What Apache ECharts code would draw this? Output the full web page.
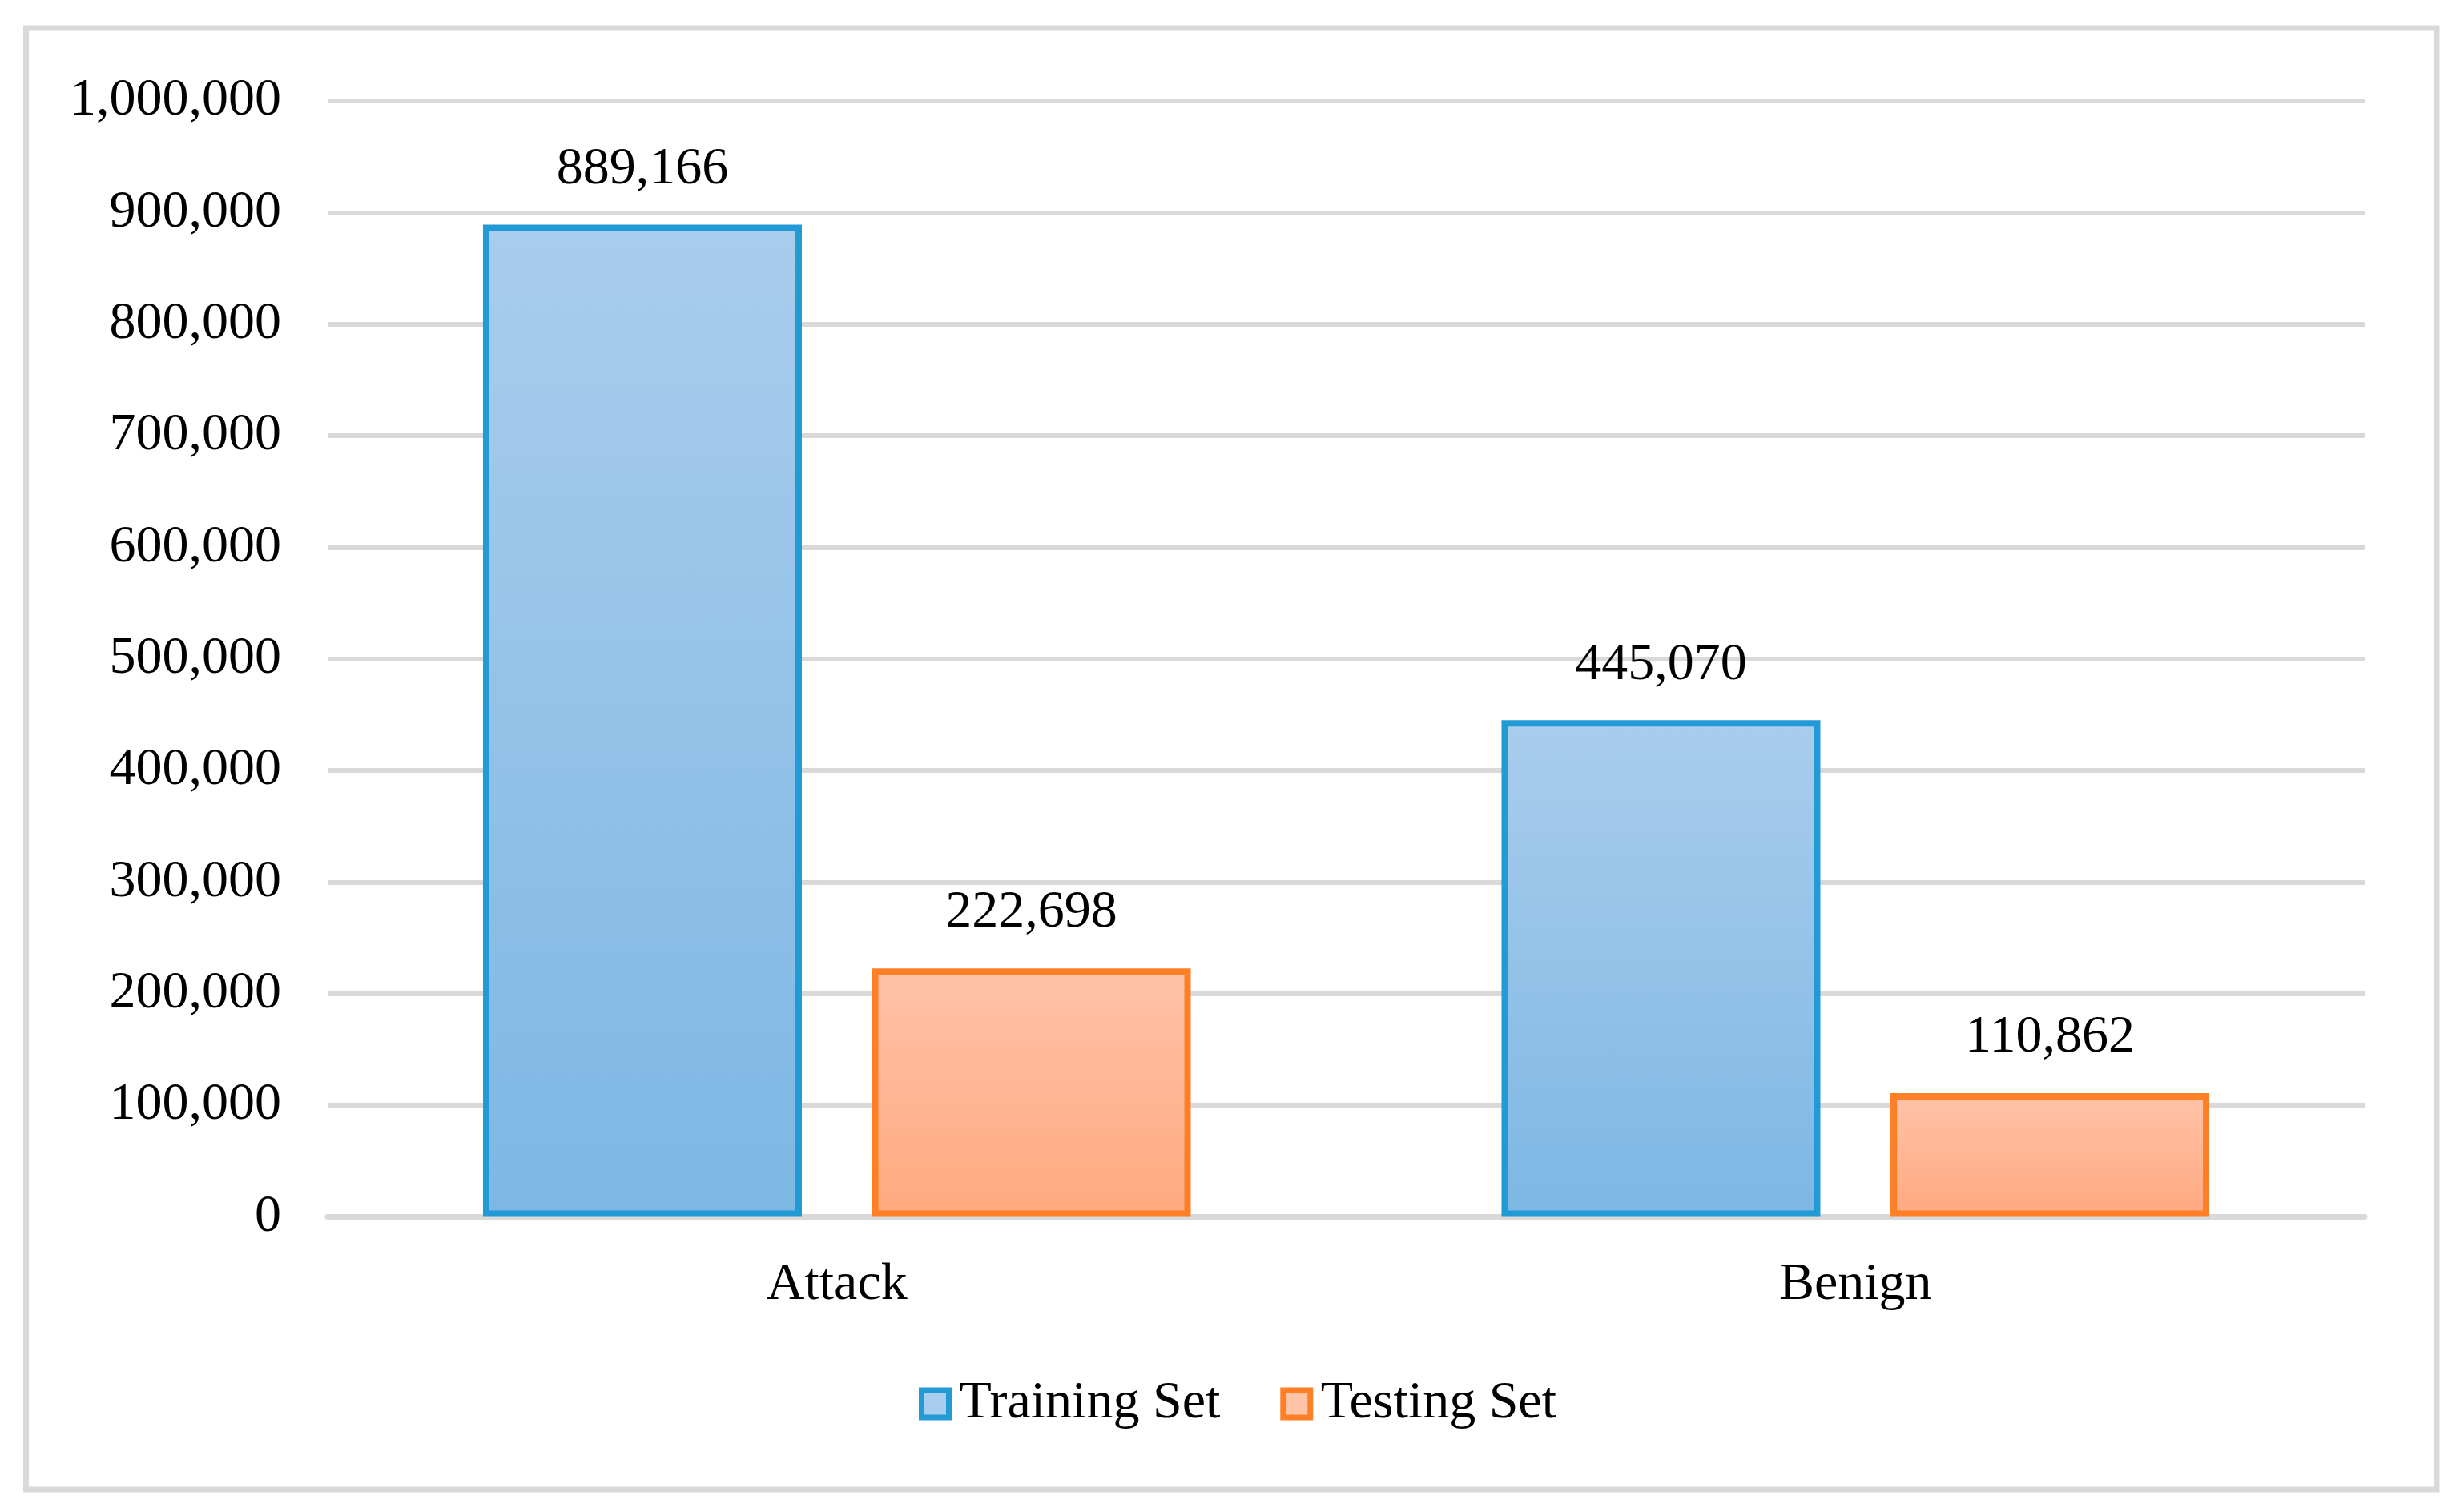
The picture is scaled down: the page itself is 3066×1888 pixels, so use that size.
<!DOCTYPE html>
<html>
<head>
<meta charset="utf-8">
<script src="https://cdn.jsdelivr.net/npm/echarts@6/dist/echarts.min.js"></script>
<style>
html,body{margin:0;padding:0;background:#fff;}
#chart{width:3066px;height:1888px;}
</style>
</head>
<body>
<div id="chart"></div>
<script>
const categories = ['Attack', 'Benign'];
const seriesNames = ['Training Set', 'Testing Set'];
const trainingValues = [889166, 445070];
const testingValues = [222698, 110862];
const yMin = 0, yMax = 1000000, yInterval = 100000;

const FONT = '"Liberation Serif", "Times New Roman", serif';
const fmt = v => Number(v).toLocaleString('en-US');

const blueFill = {type:'linear', x:0, y:0, x2:0, y2:1, colorStops:[{offset:0,color:'#a9cdec'},{offset:1,color:'#7db7e4'}]};
const orangeFill = {type:'linear', x:0, y:0, x2:0, y2:1, colorStops:[{offset:0,color:'#ffc3a8'},{offset:1,color:'#ffa87f'}]};

const chart = echarts.init(document.getElementById('chart'));
chart.setOption({
  animation: false,
  backgroundColor: '#fff',
  textStyle: {fontFamily: FONT},
  graphic: [{
    type: 'rect', z: -1,
    shape: {x: 32.5, y: 35, width: 3009.5, height: 1825},
    style: {fill: 'none', stroke: '#d9d9d9', lineWidth: 7}
  }],
  grid: {left: 409, right: 114, top: 126, bottom: 368.5, containLabel: false},
  legend: {
    left: 1142, top: 1715,
    itemWidth: 34, itemHeight: 34, itemGap: 75,
    icon: 'rect',
    textStyle: {fontFamily: FONT, fontSize: 66, color: '#000', padding: [0,0,0,8]},
    data: [
      {name: seriesNames[0], itemStyle: {color: '#a9cdec', borderColor: '#229ad6', borderWidth: 7}},
      {name: seriesNames[1], itemStyle: {color: '#ffc3a8', borderColor: '#ff7f27', borderWidth: 7}}
    ]
  },
  xAxis: {
    type: 'category', data: categories,
    axisLine: {show: true, lineStyle: {color: '#d9d9d9', width: 7}},
    axisTick: {show: false},
    axisLabel: {fontFamily: FONT, fontSize: 66, color: '#000', margin: 52},
    splitLine: {show: false}
  },
  yAxis: {
    type: 'value', min: yMin, max: yMax, interval: yInterval,
    axisLine: {show: false}, axisTick: {show: false},
    axisLabel: {fontFamily: FONT, fontSize: 66, color: '#000', margin: 58, padding: [12,0,0,0], formatter: v => fmt(v)},
    splitLine: {lineStyle: {color: '#d9d9d9', width: 6}}
  },
  series: [
    {
      name: seriesNames[0], type: 'bar', data: trainingValues,
      barWidth: 398, barGap: '22%',
      itemStyle: {color: blueFill, borderColor: '#229ad6', borderWidth: 8},
      label: {show: true, position: 'top', distance: 36, fontFamily: FONT, fontSize: 66, color: '#000', formatter: p => fmt(p.value)}
    },
    {
      name: seriesNames[1], type: 'bar', data: testingValues,
      barWidth: 398, barGap: '22%',
      itemStyle: {color: orangeFill, borderColor: '#ff7f27', borderWidth: 8},
      label: {show: true, position: 'top', distance: 36, fontFamily: FONT, fontSize: 66, color: '#000', formatter: p => fmt(p.value)}
    }
  ]
});
</script>
</body>
</html>
